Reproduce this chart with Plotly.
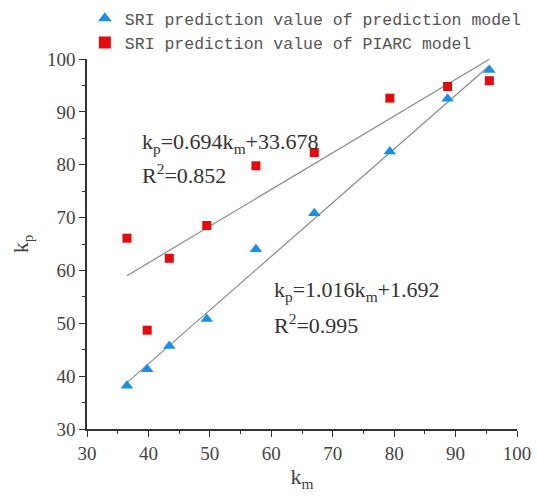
import plotly.graph_objects as go

# Measured vs predicted SRI (k_m on x, k_p on y)
km = [36.5, 39.8, 43.4, 49.5, 57.5, 67.0, 79.3, 88.7, 95.5]
kp_prediction = [38.2, 41.3, 45.7, 50.8, 64.0, 70.8, 82.5, 92.5, 97.9]
kp_piarc = [66.1, 48.7, 62.3, 68.5, 79.8, 82.3, 92.6, 94.8, 95.9]

# Linear fits shown on the chart
fit_prediction = (1.016, 1.692, 0.995)
fit_piarc = (0.694, 33.678, 0.852)

x_ticks = [30, 40, 50, 60, 70, 80, 90, 100]
y_ticks = [30, 40, 50, 60, 70, 80, 90, 100]

BLUE = "#1b8fe3"
RED = "#e30b0b"
LINE = "#8a8a8a"
AXIS = "#333333"
SERIF = "Liberation Serif"
MONO = "Liberation Mono"

fig = go.Figure()

x_fit = [min(km), max(km)]
for slope, intercept, _ in (fit_piarc, fit_prediction):
    fig.add_trace(go.Scatter(
        x=x_fit, y=[slope * v + intercept for v in x_fit],
        mode="lines", line=dict(color=LINE, width=1.2),
        showlegend=False, hoverinfo="skip"))

fig.add_trace(go.Scatter(
    x=km, y=kp_prediction, mode="markers",
    name="SRI prediction value of prediction model",
    marker=dict(symbol="triangle-up", size=11, color=BLUE)))
fig.add_trace(go.Scatter(
    x=km, y=kp_piarc, mode="markers",
    name="SRI prediction value of PIARC model",
    marker=dict(symbol="square", size=9, color=RED)))


def add_equation(fit, x, y_eq, y_r2):
    slope, intercept, r2 = fit
    lines = [(f"k<sub>p</sub>={slope:.3f}k<sub>m</sub>+{intercept:.3f}", y_eq),
             (f"R<sup>2</sup>={r2:.3f}", y_r2)]
    for text, y in lines:
        fig.add_annotation(x=x, y=y, xref="x", yref="y", text=text,
                           showarrow=False, xanchor="left", yanchor="middle",
                           font=dict(family=SERIF, size=22, color="#333333"))


add_equation(fit_piarc, 38.6, 84.1, 78.2)
add_equation(fit_prediction, 60.1, 56.1, 49.8)

axis_common = dict(
    showline=True, linecolor=AXIS, linewidth=1.5, mirror=False,
    showgrid=False, zeroline=False, automargin=False,
    ticks="outside", ticklen=6, tickwidth=1.2, tickcolor=AXIS,
    tickfont=dict(family=SERIF, size=19, color="#444444"),
    minor=dict(ticks="outside", ticklen=3, tickwidth=1, tickcolor=AXIS, dtick=5),
)

fig.update_xaxes(range=[30, 100], tickvals=x_ticks, **axis_common,
                 title=dict(text="k<sub>m</sub>", font=dict(family=SERIF, size=22, color="#444444"),
                            standoff=6))
fig.update_yaxes(range=[30, 100], tickvals=y_ticks, **axis_common,
                 title=dict(text="k<sub>p</sub>", font=dict(family=SERIF, size=22, color="#444444"),
                            standoff=12))

fig.update_layout(
    width=537, height=498,
    margin=dict(l=87, r=20, t=59, b=69, autoexpand=False),
    paper_bgcolor="white", plot_bgcolor="white",
    legend=dict(x=-0.005, y=1.157, xanchor="left", yanchor="top",
                font=dict(family=MONO, size=16.5, color="#555555"),
                tracegroupgap=0, itemsizing="constant", bgcolor="rgba(0,0,0,0)"),
)

fig.write_html("out.html")
